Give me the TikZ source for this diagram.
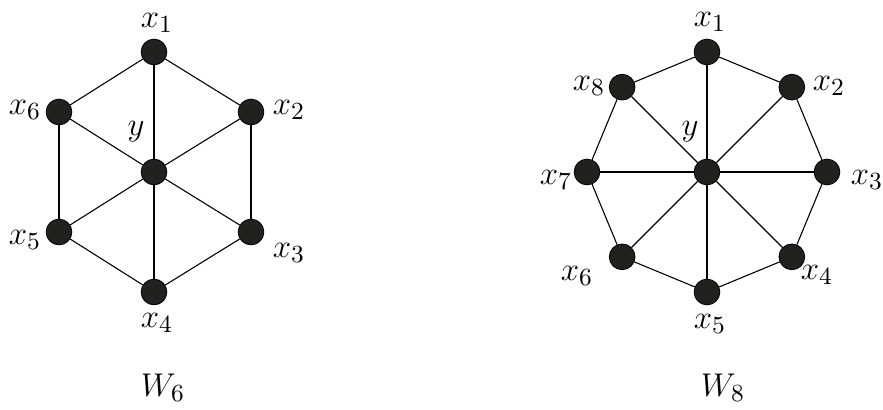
\documentclass[tikz,border=0pt]{standalone}
\usetikzlibrary{positioning}
\definecolor{dot}{RGB}{35,33,30}

\tikzset{
  vtx/.style={circle, fill=dot, draw=black, line width=0.3pt, minimum size=9.4pt, inner sep=0pt},
  edge/.style={line width=0.4pt, black},
  lbl/.style={inner sep=0pt, font=\fontsize{13}{15}\selectfont}
}

\begin{document}
\begin{tikzpicture}[x=0.365pt,y=-0.365pt]
\useasboundingbox (0,0) rectangle (883,410);

%---------------------------------------
% W_6
%---------------------------------------
\node[vtx] (a0) at (154,172) {};
\node[vtx] (a1) at (154,52)  {};
\node[vtx] (a2) at (251,112) {};
\node[vtx] (a3) at (251,232) {};
\node[vtx] (a4) at (154,292) {};
\node[vtx] (a5) at (59,232)  {};
\node[vtx] (a6) at (59,112)  {};

\foreach \i/\j in {1/2,2/3,3/4,4/5,5/6,6/1}
  \draw[edge] (a\i) -- (a\j);
\foreach \i in {1,...,6}
  \draw[edge] (a0) -- (a\i);

\node[lbl] (la1) at (157,23)  {$x_1$};
\node[lbl] (la2) at (289,110) {$x_2$};
\node[lbl] (la3) at (289,253) {$x_3$};
\node[lbl] (la4) at (157,323) {$x_4$};
\node[lbl] (la5) at (25,240)  {$x_5$};
\node[lbl] (la6) at (25,110)  {$x_6$};
\node[lbl] (lay) at (136,132) {$y$};
\node[lbl] (wa)  at (163,388) {$W_6$};

%---------------------------------------
% W_8
%---------------------------------------
\node[vtx] (b0) at (707,172) {};
\foreach \i in {1,...,8}
  \node[vtx] (b\i) at ({707+120*sin(45*(\i-1))},{172-120*cos(45*(\i-1))}) {};

\foreach \i/\j in {1/2,2/3,3/4,4/5,5/6,6/7,7/8,8/1}
  \draw[edge] (b\i) -- (b\j);
\foreach \i in {1,...,8}
  \draw[edge] (b0) -- (b\i);

\node[lbl] (lb1) at (710,22)  {$x_1$};
\node[lbl] (lb2) at (829,86)  {$x_2$};
\node[lbl] (lb3) at (867,180) {$x_3$};
\node[lbl] (lb4) at (817,275) {$x_4$};
\node[lbl] (lb5) at (710,324) {$x_5$};
\node[lbl] (lb6) at (577,276) {$x_6$};
\node[lbl] (lb7) at (556,180) {$x_7$};
\node[lbl] (lb8) at (589,86)  {$x_8$};
\node[lbl] (lby) at (690,132) {$y$};
\node[lbl] (wb)  at (723,388) {$W_8$};

\end{tikzpicture}
\end{document}
